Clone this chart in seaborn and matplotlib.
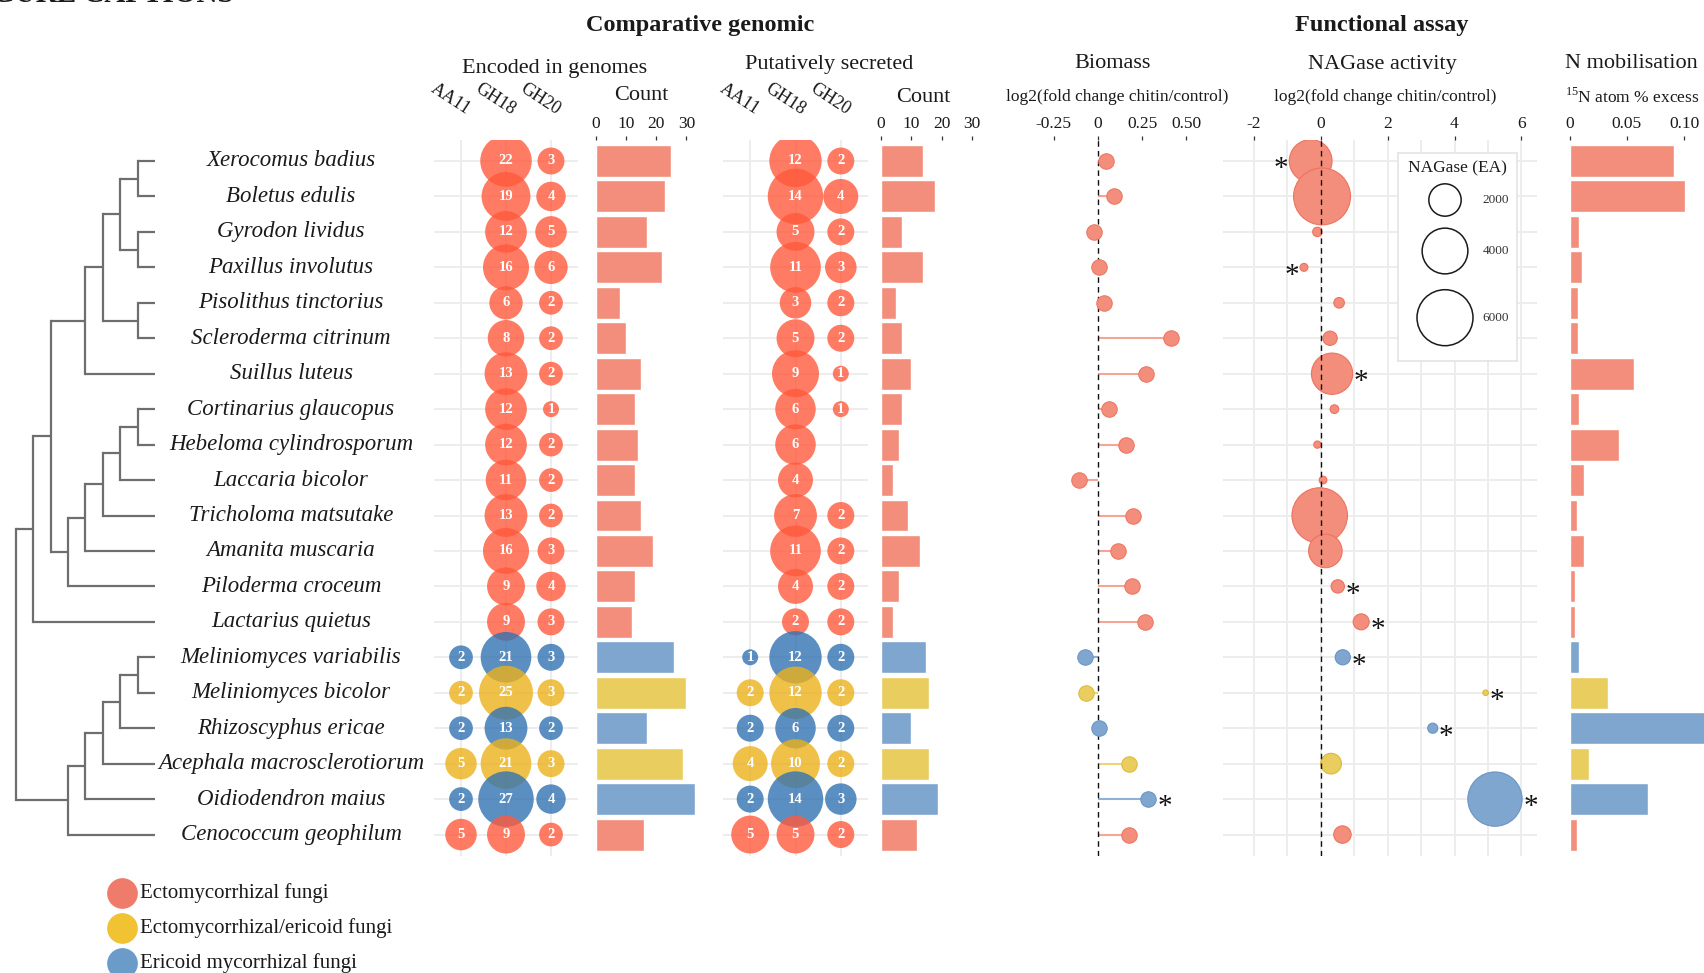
import numpy as np
import pandas as pd
import matplotlib
matplotlib.use("Agg")
import matplotlib.pyplot as plt
import matplotlib.transforms as mtransforms
import seaborn as sns

# ---------------------------------------------------------------- data
species = ["Xerocomus badius", "Boletus edulis", "Gyrodon lividus", "Paxillus involutus",
           "Pisolithus tinctorius", "Scleroderma citrinum", "Suillus luteus",
           "Cortinarius glaucopus", "Hebeloma cylindrosporum", "Laccaria bicolor",
           "Tricholoma matsutake", "Amanita muscaria", "Piloderma croceum",
           "Lactarius quietus", "Meliniomyces variabilis", "Meliniomyces bicolor",
           "Rhizoscyphus ericae", "Acephala macrosclerotiorum", "Oidiodendron maius",
           "Cenococcum geophilum"]

ECM = "Ectomycorrhizal fungi"
EE = "Ectomycorrhizal/ericoid fungi"
ERM = "Ericoid mycorrhizal fungi"
guilds = [ECM, EE, ERM]
guild = [ECM] * 14 + [ERM, EE, ERM, EE, ERM, ECM]

# cladogram topology (leaf = row index)
boletales = ((((0, 1), (2, 3)), (4, 5)), 6)
agaricales = (((((7, 8), 9), 10), 11), 12)
ericoid = (((((14, 15), 16), 17), 18), 19)
tree = (((boletales, agaricales), 13), ericoid)

genes = ["AA11", "GH18", "GH20"]
nan = np.nan
enc_aa11 = [nan] * 14 + [2, 2, 2, 5, 2, 5]
enc_gh18 = [22, 19, 12, 16, 6, 8, 13, 12, 12, 11, 13, 16, 9, 9, 21, 25, 13, 21, 27, 9]
enc_gh20 = [3, 4, 5, 6, 2, 2, 2, 1, 2, 2, 2, 3, 4, 3, 3, 3, 2, 3, 4, 2]
sec_aa11 = [nan] * 14 + [1, 2, 2, 4, 2, 5]
sec_gh18 = [12, 14, 5, 11, 3, 5, 9, 6, 6, 4, 7, 11, 4, 2, 12, 12, 6, 10, 14, 5]
sec_gh20 = [2, 4, 2, 3, 2, 2, 1, 1, nan, nan, 2, 2, 2, 2, 2, 2, 2, 2, 3, 2]

count_ticks = [0, 10, 20, 30]

biomass_lfc = [0.047, 0.09, -0.023, 0.008, 0.034, 0.413, 0.273, 0.062, 0.161, -0.106,
               0.197, 0.111, 0.19, 0.267, -0.075, -0.07, 0.005, 0.174, 0.28, 0.177]
biomass_sig = [False] * 18 + [True, False]
biomass_ticks = [-0.25, 0, 0.25, 0.5]
biomass_ticklabels = ["-0.25", "0", "0.25", "0.50"]

nagase_lfc = [-0.30, 0.04, -0.10, -0.50, 0.55, 0.28, 0.34, 0.41, -0.10, 0.07,
              -0.03, 0.14, 0.51, 1.21, 0.66, 4.93, 3.35, 0.31, 5.21, 0.65]
nagase_ea = [3500, 6200, 170, 120, 215, 390, 3260, 145, 100, 115,
             5890, 2150, 340, 490, 440, 60, 195, 820, 5640, 580]
nagase_sig = [True, False, False, True, False, False, True, False, False, False,
              False, False, True, True, True, True, True, False, True, False]
nagase_ticks = [-2, 0, 2, 4, 6]
nagase_legend_breaks = [2000, 4000, 6000]

n15_excess = [0.0907, 0.1008, 0.0087, 0.0108, 0.0076, 0.0076, 0.0563, 0.0080, 0.0428, 0.0128,
              0.0068, 0.0124, 0.0052, 0.0044, 0.0080, 0.0335, 0.15, 0.0168, 0.068, 0.0064]
n15_ticks = [0, 0.05, 0.10]
n15_ticklabels = ["0", "0.05", "0.10"]

# ---------------------------------------------------------------- style
sns.set_style("white")
plt.rcParams["font.family"] = ["Liberation Serif", "DejaVu Serif"]
plt.rcParams["mathtext.fontset"] = "custom"
plt.rcParams["mathtext.rm"] = "Liberation Serif"
plt.rcParams["axes.unicode_minus"] = False

circle_pal = {ECM: "#FF5A3C", EE: "#EBB21C", ERM: "#3373B2"}
soft_pal = {ECM: "#F28E7B", EE: "#E9CD5E", ERM: "#7FA6CF"}
edge_pal = {ECM: "#EE7360", EE: "#DDB93A", ERM: "#6A94C4"}
stem_pal = {ECM: "#F6A494", EE: "#EDD479", ERM: "#8FB1D6"}
key_pal = {ECM: "#EF7B6B", EE: "#F1C232", ERM: "#6A9BC9"}
GRID = "#ECECEC"
TREE = "#6E6E6E"

W, H = 1704, 973
PT = 72 / 100          # points per pixel
fig = plt.figure(figsize=(W / 100, H / 100), dpi=100)

ROW_TOP, ROW_STEP = 161.0, 35.45
PANEL_TOP = ROW_TOP - 0.6 * ROW_STEP
PANEL_BOT = ROW_TOP + 19.6 * ROW_STEP
nrow = len(species)
rows = np.arange(nrow)


def add_ax(x0, x1, y0=PANEL_TOP, y1=PANEL_BOT, **kw):
    ax = fig.add_axes([x0 / W, 1 - y1 / H, (x1 - x0) / W, (y1 - y0) / H], **kw)
    ax.set_ylim(19.6, -0.6)
    ax.set_facecolor("none")
    for s in ax.spines.values():
        s.set_visible(False)
    return ax


def scaled_ax(zero_px, px_per_unit, lo_px, hi_px):
    ax = add_ax(lo_px, hi_px)
    ax.set_xlim((lo_px - zero_px) / px_per_unit, (hi_px - zero_px) / px_per_unit)
    return ax


def ftext(px, py, s, **kw):
    kw.setdefault("ha", "center")
    kw.setdefault("va", "center")
    kw.setdefault("color", "#1a1a1a")
    fig.text(px / W, 1 - py / H, s, **kw)


def top_axis(ax, ticks, labels):
    ax.xaxis.tick_top()
    ax.set_xticks(ticks)
    ax.set_xticklabels(labels)
    ax.tick_params(axis="x", length=3, width=0.9, color="#333333", pad=2.5,
                   labelsize=12.5, labelcolor="#1a1a1a")
    ax.set_yticks([])
    ax.set_xlabel("")
    ax.set_ylabel("")


# ---------------------------------------------------------------- cladogram
ax_tree = add_ax(0, 160)
ax_tree.set_xlim(-15.7 / 17.41, (160 - 15.7) / 17.41)
ax_tree.set_xticks([])
ax_tree.set_yticks([])


def height(node):
    return 0 if isinstance(node, int) else 1 + max(height(c) for c in node)


depth = height(tree)


def draw(node):
    """Return (x, y) of node; draw its branches."""
    if isinstance(node, int):
        return depth, node
    kids = [draw(c) for c in node]
    x = depth - height(node)
    ys = [k[1] for k in kids]
    ax_tree.plot([x, x], [min(ys), max(ys)], color=TREE, lw=1.6, solid_capstyle="projecting")
    for kx, ky in kids:
        ax_tree.plot([x, kx], [ky, ky], color=TREE, lw=1.6, solid_capstyle="butt")
    return x, float(np.mean(ys))


draw(tree)

lab_tf = mtransforms.blended_transform_factory(fig.transFigure, ax_tree.transData)
for r, name in enumerate(species):
    fig.text(291 / W, r, name, transform=lab_tf, ha="center", va="center",
             fontsize=16.5, fontstyle="italic", color="#1a1a1a")


# ---------------------------------------------------------------- gene bubbles
def bubble_panel(x0, x1, cols, dmin=16.0, dmax=55.5):
    ax = add_ax(x0, x1)
    ax.set_xlim(-0.6, 2.6)
    recs = []
    for gi, vals in enumerate(cols):
        for r, v in enumerate(vals):
            if not np.isnan(v):
                recs.append(dict(gene=gi, row=r, count=int(v), guild=guild[r]))
    df = pd.DataFrame(recs)
    vmin, vmax = df["count"].min(), df["count"].max()
    dia = lambda v: dmin + (dmax - dmin) * np.sqrt((v - vmin) / (vmax - vmin))
    sizes = {int(v): (dia(v) * PT) ** 2 for v in df["count"].unique()}
    for r in rows:
        ax.axhline(r, color=GRID, lw=1.3, zorder=0)
    for gi in range(3):
        ax.axvline(gi, color=GRID, lw=1.3, zorder=0)
    sns.scatterplot(data=df, x="gene", y="row", hue="guild", size="count",
                    sizes=sizes, palette=circle_pal, alpha=0.8, linewidth=0,
                    legend=False, ax=ax, zorder=2)
    for _, d in df.iterrows():
        ax.text(d["gene"], d["row"], str(d["count"]), ha="center", va="center",
                color="white", fontsize=10.5, fontweight="bold", zorder=3)
    ax.set_xticks([])
    ax.set_yticks([])
    ax.set_xlabel("")
    ax.set_ylabel("")
    tf = mtransforms.blended_transform_factory(ax.transData, fig.transFigure)
    for gi, g in enumerate(genes):
        ax.text(gi + 0.12, 1 - 115 / H, g, transform=tf, rotation=-33,
                rotation_mode="anchor", ha="right", va="baseline",
                fontsize=13, color="#1a1a1a")
    return ax


def bar_panel(zero_px, ppu, lo_px, hi_px, values, ticks, ticklabels):
    ax = scaled_ax(zero_px, ppu, lo_px, hi_px)
    df = pd.DataFrame(dict(species=species, value=values, guild=guild))
    sns.barplot(data=df, x="value", y="species", hue="guild", order=species,
                palette=soft_pal, dodge=False, width=0.9, saturation=1,
                legend=False, errorbar=None, orient="h", ax=ax)
    ax.set_ylim(19.6, -0.6)
    ax.set_xlim((lo_px - zero_px) / ppu, (hi_px - zero_px) / ppu)
    top_axis(ax, ticks, ticklabels)
    return ax


enc_cols = [enc_aa11, enc_gh18, enc_gh20]
sec_cols = [sec_aa11, sec_gh18, sec_gh20]
enc_total = np.nansum(np.array(enc_cols, dtype=float), axis=0)
sec_total = np.nansum(np.array(sec_cols, dtype=float), axis=0)

bubble_panel(434, 578, enc_cols)
bar_panel(595.5, 3.03, 590.5, 700.5, enc_total, count_ticks, [str(t) for t in count_ticks])
bubble_panel(723, 868, sec_cols)
bar_panel(880.5, 3.05, 877.5, 981.5, sec_total, count_ticks, [str(t) for t in count_ticks])


def star(ax, x, y, offset_px):
    ax.annotate("*", xy=(x, y), xytext=(offset_px * PT, -6), textcoords="offset points",
                ha="center", va="center", fontsize=21, color="#111111", zorder=5)


# ---------------------------------------------------------------- biomass lollipops
ax_bio = scaled_ax(1098, 176.8, 1030, 1225)
bio_df = pd.DataFrame(dict(row=rows, lfc=biomass_lfc, guild=guild))
ax_bio.hlines(rows, 0, biomass_lfc, colors=[stem_pal[g] for g in guild], lw=1.5, zorder=1)
ax_bio.axvline(0, color="#111111", lw=1.0, ls=(0, (4, 3)), zorder=2)
BIO_D = 15.5
for g in guilds:
    sub = bio_df[bio_df["guild"] == g]
    sns.scatterplot(data=sub, x="lfc", y="row", color=soft_pal[g], s=(BIO_D * PT) ** 2,
                    edgecolor=edge_pal[g], linewidth=0.7, legend=False, ax=ax_bio, zorder=3)
for r in rows:
    if biomass_sig[r]:
        star(ax_bio, biomass_lfc[r], r, BIO_D / 2 + 9.5)
top_axis(ax_bio, biomass_ticks, biomass_ticklabels)
ax_bio.set_ylim(19.6, -0.6)

# ---------------------------------------------------------------- NAGase bubbles
ax_nag = scaled_ax(1320.7, 33.45, 1223.3, 1536.5)
for r in rows:
    ax_nag.axhline(r, color=GRID, lw=1.3, zorder=0)
for t in np.arange(-2, 7, 1):
    ax_nag.axvline(t, color=GRID, lw=1.3, zorder=0)
ax_nag.axvline(0, color="#111111", lw=1.0, ls=(0, (4, 3)), zorder=4)

D_REF, EA_REF = 56.0, 6000.0          # circle diameter (px) for the reference activity
ea_max = max(nagase_ea)
s_of = lambda ea: (D_REF * PT) ** 2 * ea / EA_REF
nag_df = pd.DataFrame(dict(row=rows, lfc=nagase_lfc, ea=nagase_ea, guild=guild))
for g in guilds:
    sub = nag_df[nag_df["guild"] == g]
    sns.scatterplot(data=sub, x="lfc", y="row", size="ea", sizes=(0, s_of(ea_max)),
                    size_norm=(0, ea_max), color=soft_pal[g], edgecolor=edge_pal[g],
                    linewidth=0.8, legend=False, ax=ax_nag, zorder=3)
for r in rows:
    if nagase_sig[r]:
        d = D_REF * np.sqrt(nagase_ea[r] / EA_REF)
        side = -1 if nagase_lfc[r] < 0 else 1
        star(ax_nag, nagase_lfc[r], r, side * (d / 2 + 8.5))
top_axis(ax_nag, nagase_ticks, [str(t) for t in nagase_ticks])
ax_nag.set_ylim(19.6, -0.6)

# size key for NAGase activity
ax_key = fig.add_axes([1398 / W, 1 - 361 / H, (1517 - 1398) / W, (361 - 153) / H], zorder=6)
ax_key.set_xlim(1398, 1517)
ax_key.set_ylim(361, 153)
ax_key.set_facecolor("white")
for s in ax_key.spines.values():
    s.set_color("#E4E4E4")
    s.set_linewidth(1.2)
ax_key.set_xticks([])
ax_key.set_yticks([])
ax_key.text(1457.8, 168, "NAGase (EA)", ha="center", va="center", fontsize=12.5, color="#1a1a1a")
for yk, brk in zip([200, 251, 317.7], nagase_legend_breaks):
    ax_key.scatter([1445], [yk], s=s_of(brk), facecolor="none", edgecolor="#1a1a1a", linewidth=1.1)
    ax_key.text(1496, yk, str(brk), ha="center", va="center", fontsize=9.5, color="#333333")

# ---------------------------------------------------------------- 15N mobilisation
bar_panel(1569.5, 1148, 1563, 1704, n15_excess, n15_ticks, n15_ticklabels)

# ---------------------------------------------------------------- headings
ftext(234, 2, "FIGURE CAPTIONS", ha="right", va="baseline", fontsize=21, fontweight="bold")
ftext(700, 26, "Comparative genomic", fontsize=17.5, fontweight="bold")
ftext(1382, 26, "Functional assay", fontsize=17.5, fontweight="bold")
ftext(555, 68, "Encoded in genomes", fontsize=16)
ftext(829, 65, "Putatively secreted", fontsize=16)
ftext(1113, 64, "Biomass", fontsize=16)
ftext(1382, 65, "NAGase activity", fontsize=16)
ftext(1631, 64, "N mobilisation", fontsize=16)
ftext(641, 95, "Count", fontsize=16)
ftext(923, 98, "Count", fontsize=16)
ftext(1117, 97, "log2(fold change chitin/control)", fontsize=12.5)
ftext(1385, 97, "log2(fold change chitin/control)", fontsize=12.5)
ftext(1632, 97, r"$^{15}$N atom % excess", fontsize=12.5)

# ---------------------------------------------------------------- guild key
ax_leg = fig.add_axes([0, 0, 500 / W, (H - 860) / H])
ax_leg.set_xlim(0, 500)
ax_leg.set_ylim(H, 860)
ax_leg.axis("off")
for yk, g in zip([893.3, 928.3, 962.7], guilds):
    ax_leg.scatter([122], [yk], s=(30.7 * PT) ** 2, color=key_pal[g], linewidth=0)
    ax_leg.text(140, yk, g, ha="left", va="center", fontsize=15, color="#1a1a1a")

fig.savefig("out.png", dpi=100)
